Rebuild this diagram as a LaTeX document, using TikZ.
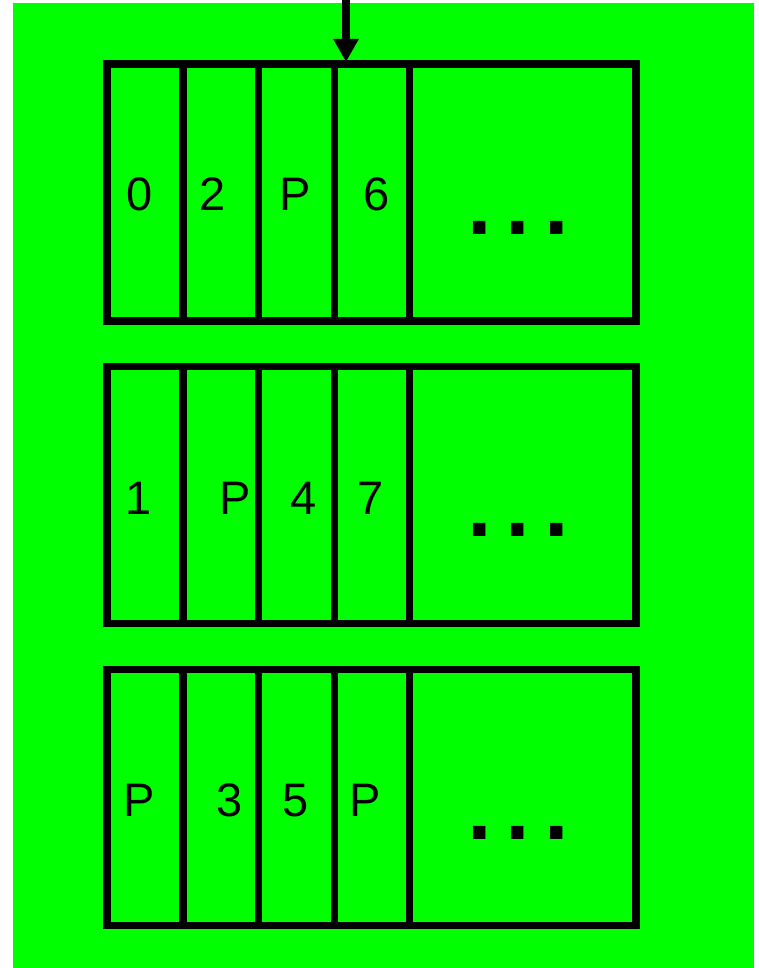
\documentclass[tikz,border=0pt]{standalone}
\usepackage{fontspec}
\setmainfont{Liberation Sans}
\usetikzlibrary{arrows.meta}
\definecolor{bggreen}{RGB}{0,255,0}
\tikzset{
  tape/.style={draw=black, line width=7.5pt, rectangle, minimum width=529pt, inner sep=0pt, outer sep=0pt},
  divider/.style={draw=black, line width=7.5pt},
  cell/.style={anchor=base, inner sep=0pt, font=\fontsize{47}{47}\selectfont},
  dots/.style={anchor=base west, inner sep=0pt, font=\bfseries\fontsize{88}{88}\selectfont},
  headarrow/.style={draw=black, line width=8pt, -{Triangle[width=24pt,length=23pt]}}
}
\begin{document}
\begin{tikzpicture}[x=1pt,y=-1pt]
\useasboundingbox (0,0) rectangle (759,968);
\fill[bggreen] (13,3) rectangle (754,968);
% tapes
\node[tape, minimum height=257pt] (t1) at (371.5,192.5) {};
\node[tape, minimum height=257pt] (t2) at (371.5,495) {};
\node[tape, minimum height=256pt] (t3) at (371.5,797.5) {};
\foreach \t in {t1,t2,t3}{
  \foreach \x in {183,258.7,334.3,409.5}{
    \draw[divider] (\t.north west -| \x,0) -- (\t.south west -| \x,0);
  }
}
% arrow
\coordinate (src) at (346,-6);
\coordinate (dst) at (346,62);
\draw[headarrow] (src) -- (dst);
% row 1
\node[cell] (a0) at (140,211) {0};
\node[cell] (a1) at (212.5,211) {2};
\node[cell] (a2) at (295.5,211) {P};
\node[cell] (a3) at (377,211) {6};
\node[dots] (ad) at (466.8,234) {.\kern14.5pt.\kern14.5pt.};
% row 2
\node[cell] (b0) at (139,514) {1};
\node[cell] (b1) at (235.5,514) {P};
\node[cell] (b2) at (304,514) {4};
\node[cell] (b3) at (371,514) {7};
\node[dots] (bd) at (466.8,536) {.\kern14.5pt.\kern14.5pt.};
% row 3
\node[cell] (c0) at (139.5,816) {P};
\node[cell] (c1) at (230,816) {3};
\node[cell] (c2) at (296,816) {5};
\node[cell] (c3) at (365.5,816) {P};
\node[dots] (cd) at (466.8,839) {.\kern14.5pt.\kern14.5pt.};
\end{tikzpicture}
\end{document}
